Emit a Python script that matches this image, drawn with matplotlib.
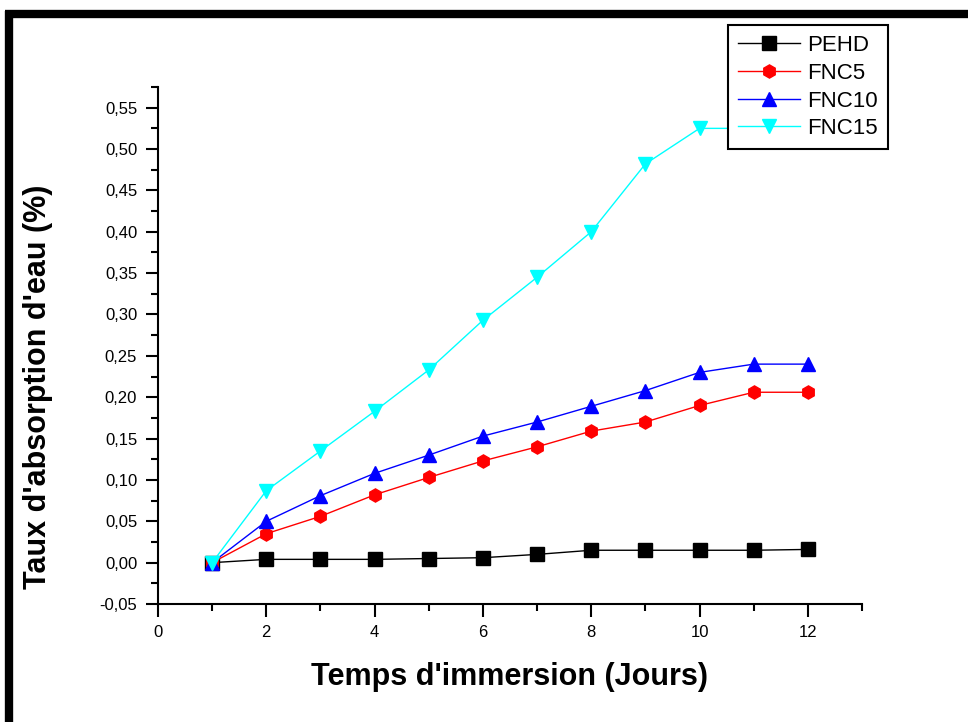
import matplotlib
matplotlib.use("Agg")
import matplotlib.pyplot as plt
import numpy as np
from matplotlib.lines import Line2D
from matplotlib.ticker import MultipleLocator, FuncFormatter

plt.rcParams["font.family"] = ["Liberation Sans", "DejaVu Sans"]

# data
days = [1, 2, 3, 4, 5, 6, 7, 8, 9, 10, 11, 12]
pehd = [0.0, 0.004, 0.004, 0.004, 0.005, 0.006, 0.010, 0.015, 0.015, 0.015, 0.015, 0.016]
fnc5 = [0.0, 0.035, 0.056, 0.082, 0.103, 0.123, 0.140, 0.159, 0.170, 0.190, 0.206, 0.206]
fnc10 = [0.0, 0.050, 0.081, 0.108, 0.130, 0.153, 0.170, 0.189, 0.208, 0.230, 0.240, 0.240]
fnc15 = [0.0, 0.087, 0.135, 0.183, 0.233, 0.293, 0.345, 0.400, 0.482, 0.525, 0.525, 0.530]

series = [
    ("PEHD", pehd, "black", "s"),
    ("FNC5", fnc5, "red", "h"),
    ("FNC10", fnc10, "blue", "^"),
    ("FNC15", fnc15, "cyan", "v"),
]

fig = plt.figure(figsize=(9.68, 7.22), dpi=100)
ax = fig.add_axes([0.1632, 0.1634, 0.7273, 0.7161])

for name, vals, col, mk in series:
    ax.plot(days, vals, color=col, marker=mk, markersize=9.5, linewidth=1.0,
            label=name)

ax.set_xlim(0, 13)
ax.set_ylim(-0.05, 0.575)
ax.xaxis.set_major_locator(MultipleLocator(2))
ax.xaxis.set_minor_locator(MultipleLocator(1))
ax.yaxis.set_major_locator(MultipleLocator(0.05))
ax.yaxis.set_minor_locator(MultipleLocator(0.025))
ax.yaxis.set_major_formatter(FuncFormatter(lambda v, p: f"{v:.2f}".replace(".", ",").replace("-0,00", "0,00")))
ax.xaxis.set_major_formatter(FuncFormatter(lambda v, p: f"{v:.0f}"))

for s in ["top", "right"]:
    ax.spines[s].set_visible(False)
for s in ["left", "bottom"]:
    ax.spines[s].set_linewidth(1.5)
ax.tick_params(which="major", direction="out", length=9, width=1.5, labelsize=12, pad=6)
ax.tick_params(which="minor", direction="out", length=5, width=1.5)

ax.set_xlabel("Temps d'immersion (Jours)", fontsize=22, fontweight="bold", labelpad=16)
ax.set_ylabel("Taux d'absorption d'eau (%)", fontsize=22, fontweight="bold")
ax.yaxis.set_label_coords(-0.149, 0.42)

leg = fig.legend(loc="upper right", bbox_to_anchor=(0.917, 0.965),
                 bbox_transform=fig.transFigure, fontsize=16, frameon=True,
                 fancybox=False, framealpha=1, handlelength=2.8, borderpad=0.45,
                 labelspacing=0.3, handletextpad=0.3, borderaxespad=0)
leg.get_frame().set_edgecolor("black")
leg.get_frame().set_linewidth(1.5)

# thick black frame at top and left of the picture
fig.add_artist(Line2D([0.005, 1.0], [0.981, 0.981], color="black", linewidth=6,
                      transform=fig.transFigure, solid_capstyle="butt"))
fig.add_artist(Line2D([0.009, 0.009], [0.0, 0.985], color="black", linewidth=6,
                      transform=fig.transFigure, solid_capstyle="butt"))

fig.savefig("out.png", dpi=100)
